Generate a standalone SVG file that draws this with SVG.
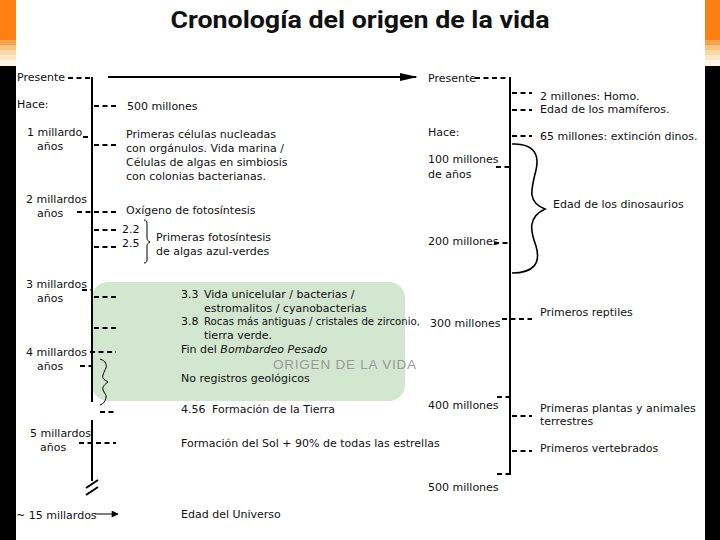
<svg xmlns="http://www.w3.org/2000/svg" width="720" height="540" viewBox="0 0 720 540">
<defs>
<style>
text{font-family:"DejaVu Sans",Verdana,sans-serif;font-size:11px;fill:#111}
.title{font-family:Roboto,"Liberation Sans",sans-serif;font-size:24px;font-weight:bold;fill:#111}
.big{font-family:"Liberation Sans",Arial,sans-serif;font-size:13.5px;fill:#9a9a9a}
.axis{stroke:#000;stroke-width:2;fill:none}
.tick{stroke:#000;stroke-width:2;stroke-dasharray:5 3.5;fill:none}
.brace{stroke:#000;stroke-width:1.6;fill:none}
.thin{stroke:#000;stroke-width:1;fill:none}
</style>
<marker id="ah" viewBox="0 0 10 10" refX="9" refY="5" markerWidth="8" markerHeight="7" markerUnits="userSpaceOnUse" orient="auto"><path d="M0,0L10,5L0,10z" fill="#000"/></marker>
<marker id="ahBig" viewBox="0 0 10 10" refX="9" refY="5" markerWidth="18" markerHeight="8" markerUnits="userSpaceOnUse" orient="auto" preserveAspectRatio="none"><path d="M0,0L10,5L0,10z" fill="#000"/></marker>
</defs>
<rect width="720" height="540" fill="#fff"/>
<g id="strips">
<rect x="0" y="0" width="16" height="40" fill="#ff8012"/>
<rect x="0" y="40" width="16" height="5" fill="#f9a24c"/>
<rect x="0" y="45" width="16" height="5" fill="#fbc37f"/>
<rect x="0" y="50" width="16" height="5" fill="#fcd7a6"/>
<rect x="0" y="55" width="16" height="5" fill="#fde6c6"/>
<rect x="0" y="60" width="16" height="6" fill="#fff3e4"/>
<rect x="0" y="66" width="16" height="474" fill="#000"/>
<rect x="705" y="0" width="15" height="40" fill="#ff8012"/>
<rect x="705" y="40" width="15" height="5" fill="#f9a24c"/>
<rect x="705" y="45" width="15" height="5" fill="#fbc37f"/>
<rect x="705" y="50" width="15" height="5" fill="#fcd7a6"/>
<rect x="705" y="55" width="15" height="5" fill="#fde6c6"/>
<rect x="705" y="60" width="15" height="6" fill="#fff3e4"/>
<rect x="705" y="66" width="15" height="474" fill="#000"/>
</g>
<text class="title" x="360" y="28" text-anchor="middle" textLength="379" lengthAdjust="spacingAndGlyphs">Cronología del origen de la vida</text>
<g id="origen-vida">
<rect x="92" y="282" width="313" height="119" rx="16" fill="#d3e6d0"/>
<text class="big" x="273" y="369" textLength="143" lengthAdjust="spacing">ORIGEN DE LA VIDA</text>
</g>
<g id="connectors">
<line class="axis" x1="92" y1="77" x2="92" y2="402"/>
<line class="axis" x1="92" y1="420" x2="92" y2="481"/>
<line class="axis" x1="86" y1="488" x2="98" y2="480"/>
<line class="axis" x1="86" y1="495" x2="98" y2="487"/>
<line class="axis" x1="510" y1="77" x2="510" y2="475"/>
<line class="axis" x1="108" y1="77" x2="416" y2="77" marker-end="url(#ahBig)"/>
<line class="thin" stroke-width="1.5" x1="95" y1="514" x2="118" y2="514" marker-end="url(#ah)"/>
<line class="tick" x1="68" y1="78" x2="92" y2="78"/>
<line class="tick" x1="94" y1="106" x2="116" y2="106"/>
<line class="tick" x1="83" y1="137" x2="92" y2="137"/>
<line class="tick" x1="94" y1="145" x2="116" y2="145"/>
<line class="tick" x1="77" y1="212" x2="116" y2="212"/>
<line class="tick" x1="94" y1="230" x2="116" y2="230"/>
<line class="tick" x1="94" y1="247" x2="116" y2="247"/>
<line class="tick" x1="82" y1="290" x2="92" y2="290"/>
<line class="tick" x1="94" y1="297" x2="116" y2="297"/>
<line class="tick" x1="94" y1="328" x2="116" y2="328"/>
<line class="tick" x1="90" y1="352" x2="116" y2="352"/>
<line class="tick" x1="80" y1="366" x2="92" y2="366"/>
<line class="tick" x1="100" y1="412" x2="116" y2="412"/>
<line class="tick" x1="79" y1="443" x2="116" y2="443"/>
<line class="tick" x1="475" y1="78" x2="510" y2="78"/>
<line class="tick" x1="512" y1="93" x2="532" y2="93"/>
<line class="tick" x1="512" y1="110" x2="532" y2="110"/>
<line class="tick" x1="512" y1="136" x2="532" y2="136"/>
<line class="tick" x1="496" y1="167" x2="510" y2="167"/>
<line class="tick" x1="494" y1="243" x2="510" y2="243"/>
<line class="tick" x1="502" y1="319" x2="532" y2="319"/>
<line class="tick" x1="497" y1="397" x2="510" y2="397"/>
<line class="tick" x1="512" y1="416" x2="532" y2="416"/>
<line class="tick" x1="512" y1="451" x2="532" y2="451"/>
<line class="tick" x1="497" y1="474" x2="510" y2="474"/>
<path class="brace" d="M512,144 C532,143 540,153 536,170 C531,190 527,202 545,209 C528,217 530,230 536,246 C541,263 534,273 512,273"/>
<path class="thin" d="M144,220 C146,220 147,221 147,224 L147,238 C147,240 148,241 150,242 C148,243 147,244 147,246 L147,260 C147,262 146,263 144,263"/>
<path class="thin" d="M100,359 C106,361 107,365 106,368 C104,372 102,376 103,378 C104,380 107,381 108,382 C105,384 102,387 103,390 C104,393 107,395 106,398 C105,402 103,404 100,405"/>
</g>
<g id="left-labels">
<text x="17" y="81">Presente</text>
<text x="17" y="108">Hace:</text>
<text x="27" y="136">1 millardo</text>
<text x="37" y="150">años</text>
<text x="26" y="203">2 millardos</text>
<text x="37" y="217">años</text>
<text x="26" y="288">3 millardos</text>
<text x="37" y="302">años</text>
<text x="26" y="356">4 millardos</text>
<text x="37" y="370">años</text>
<text x="30" y="437">5 millardos</text>
<text x="40" y="451">años</text>
<text x="16" y="519">~ 15 millardos</text>
</g>
<g id="left-events">
<text x="127" y="110">500 millones</text>
<text x="126" y="138">Primeras células nucleadas</text>
<text x="126" y="152">con orgánulos. Vida marina /</text>
<text x="126" y="166">Células de algas en simbiosis</text>
<text x="126" y="180">con colonias bacterianas.</text>
<text x="126" y="214">Oxígeno de fotosíntesis</text>
<text x="122" y="233">2.2</text>
<text x="122" y="247">2.5</text>
<text x="156" y="241">Primeras fotosíntesis</text>
<text x="156" y="255">de algas azul-verdes</text>
<text x="181" y="298">3.3</text>
<text x="204" y="298">Vida unicelular / bacterias /</text>
<text x="204" y="312">estromalitos / cyanobacterias</text>
<text x="181" y="325">3.8</text>
<text x="204" y="325" textLength="216" lengthAdjust="spacingAndGlyphs">Rocas más antiguas / cristales de zirconio,</text>
<text x="204" y="339">tierra verde.</text>
<text x="181" y="353">Fin del <tspan font-style="italic">Bombardeo Pesado</tspan></text>
<text x="181" y="382">No registros geológicos</text>
<text x="181" y="413">4.56</text>
<text x="212" y="413">Formación de la Tierra</text>
<text x="181" y="447">Formación del Sol + 90% de todas las estrellas</text>
<text x="181" y="518">Edad del Universo</text>
</g>
<g id="right-labels">
<text x="428" y="82">Presente</text>
<text x="428" y="136">Hace:</text>
<text x="428" y="163">100 millones</text>
<text x="428" y="178">de años</text>
<text x="428" y="245">200 millones</text>
<text x="430" y="327">300 millones</text>
<text x="428" y="409">400 millones</text>
<text x="428" y="491">500 millones</text>
</g>
<g id="right-events">
<text x="540" y="100">2 millones: Homo.</text>
<text x="540" y="113">Edad de los mamíferos.</text>
<text x="540" y="140">65 millones: extinción dinos.</text>
<text x="553" y="208">Edad de los dinosaurios</text>
<text x="540" y="316">Primeros reptiles</text>
<text x="540" y="412">Primeras plantas y animales</text>
<text x="540" y="425">terrestres</text>
<text x="540" y="452">Primeros vertebrados</text>
</g>
</svg>
